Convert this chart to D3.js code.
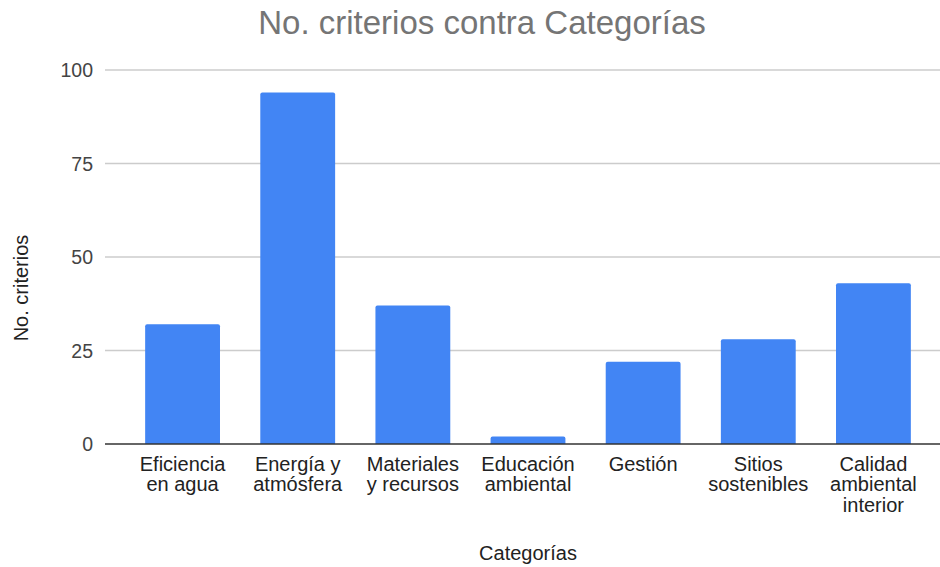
<!DOCTYPE html>
<html><head><meta charset="utf-8">
<script src="https://cdn.jsdelivr.net/npm/d3@7"></script>
<style>body{margin:0;background:#fff}svg{display:block;font-family:"Liberation Sans",Arial,sans-serif}</style>
</head><body><svg id="c" width="940" height="567"></svg>
<script>
const categories = [["Eficiencia","en agua"],["Energía y","atmósfera"],["Materiales","y recursos"],["Educación","ambiental"],["Gestión"],["Sitios","sostenibles"],["Calidad","ambiental","interior"]];
const values = [32, 94, 37, 2, 22, 28, 43];
const yTicks = [0, 25, 50, 75, 100];

const svg = d3.select("#c");
const x = d3.scaleBand().domain(d3.range(categories.length)).range([125, 931]).paddingInner(0.35).paddingOuter(0.175);
const y = d3.scaleLinear().domain([0, 100]).range([444, 70]);

svg.append("text").attr("x", 482).attr("y", 34).attr("text-anchor", "middle")
  .attr("font-size", 33).attr("fill", "#757575").text("No. criterios contra Categorías");

const g = svg.append("g");
g.selectAll("line.grid").data(yTicks.filter(d => d > 0)).join("line")
  .attr("x1", 105).attr("x2", 940).attr("y1", d => y(d)).attr("y2", d => y(d))
  .attr("stroke", "#cccccc").attr("stroke-width", 1.5);
g.selectAll("text.tick").data(yTicks).join("text")
  .attr("x", 93).attr("y", d => y(d) + 7).attr("text-anchor", "end")
  .attr("font-size", 19.5).attr("fill", "#444").text(d => d);

const r = 2;
g.selectAll("path.bar").data(values).join("path")
  .attr("fill", "#4285f4")
  .attr("d", (d, i) => {
    const x0 = x(i), w = x.bandwidth(), y0 = y(d), y1 = y(0);
    return `M${x0},${y1}V${y0 + r}Q${x0},${y0} ${x0 + r},${y0}H${x0 + w - r}Q${x0 + w},${y0} ${x0 + w},${y0 + r}V${y1}Z`;
  });

g.append("line").attr("x1", 105).attr("x2", 940).attr("y1", y(0)).attr("y2", y(0))
  .attr("stroke", "#333").attr("stroke-width", 1.5);

const lab = g.selectAll("text.cat").data(categories).join("text")
  .attr("text-anchor", "middle").attr("font-size", 20).attr("fill", "#222");
lab.each(function(lines, i) {
  d3.select(this).selectAll("tspan").data(lines).join("tspan")
    .attr("x", x(i) + x.bandwidth() / 2).attr("y", (d, j) => 471 + j * 20.3).text(d => d);
});

svg.append("text").attr("x", 528).attr("y", 560).attr("text-anchor", "middle")
  .attr("font-size", 20).attr("fill", "#222").text("Categorías");
svg.append("text").attr("transform", "translate(28,288) rotate(-90)").attr("text-anchor", "middle")
  .attr("font-size", 20).attr("fill", "#222").text("No. criterios");
</script></body></html>
